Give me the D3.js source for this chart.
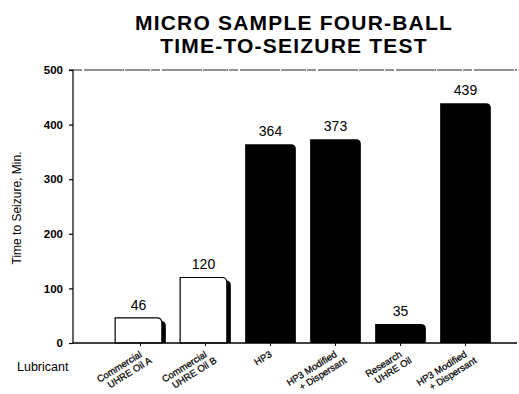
<!DOCTYPE html>
<html>
<head>
<meta charset="utf-8">
<script src="https://cdn.jsdelivr.net/npm/d3@7"></script>
<style>
  html, body { margin: 0; padding: 0; background: #fff; }
  svg { display: block; font-family: "Liberation Sans", Arial, Helvetica, sans-serif; }
</style>
</head>
<body>
<svg id="chart" width="519" height="394"></svg>
<script>
// Lubricant categories, drawn as two-line rotated labels
const lubricants = [
  ["Commercial", "UHRE Oil A"],
  ["Commercial", "UHRE Oil B"],
  ["HP3"],
  ["HP3 Modified", "+ Dispersant"],
  ["Research", "UHRE Oil"],
  ["HP3 Modified", "+ Dispersant"]
];
const seizureMinutes = [46, 120, 364, 373, 35, 439];
const hollowBar = [true, true, false, false, false, false];
const yTicks = [0, 100, 200, 300, 400, 500];
const titleLines = ["MICRO SAMPLE FOUR-BALL", "TIME-TO-SEIZURE TEST"];

const svg = d3.select("#chart");
const plotLeft = 73, plotRight = 517, plotTop = 70, plotBottom = 343;

const x = d3.scaleBand()
  .domain(d3.range(lubricants.length))
  .range([108, 498])
  .paddingInner(0.22)
  .paddingOuter(0.11);

const y = d3.scaleLinear().domain([0, 500]).range([plotBottom, plotTop]);

// Title
svg.append("text")
  .attr("text-anchor", "middle")
  .attr("font-weight", "bold")
  .attr("font-size", 21)
  .attr("letter-spacing", 1.2)
  .selectAll("tspan").data(titleLines).join("tspan")
  .attr("x", 294)
  .attr("y", (d, i) => 30 + i * 23)
  .text(d => d);

// Frame: top line at 500 and baseline
svg.append("line")
  .attr("x1", plotLeft).attr("x2", plotRight)
  .attr("y1", y(500)).attr("y2", y(500))
  .attr("stroke", "#222").attr("stroke-width", 1.1)
  .attr("stroke-dasharray", "9,2,40,1,25,1");

// Y axis
const yAxis = d3.axisLeft(y).tickValues(yTicks).tickSize(4).tickPadding(6).tickFormat(d3.format("d"));
const gy = svg.append("g").attr("transform", `translate(${plotLeft},0)`).call(yAxis);
gy.select(".domain").attr("stroke", "#000").attr("stroke-width", 1.2).attr("d", `M-4,${plotTop}H0V${plotBottom}`);
gy.selectAll(".tick line").attr("stroke", "#000").attr("stroke-width", 1.2);
gy.selectAll(".tick text")
  .attr("font-family", "Liberation Sans, Arial, sans-serif")
  .attr("font-size", 11.5).attr("font-weight", "bold").attr("fill", "#000");

// Y axis title
svg.append("text")
  .attr("transform", "translate(21,208) rotate(-90)")
  .attr("text-anchor", "middle")
  .attr("font-size", 12)
  .text("Time to Seizure, Min.");

// Bars
const bars = svg.append("g");
const r = 5;
seizureMinutes.forEach((v, i) => {
  const x0 = x(i), bw = x.bandwidth(), yt = y(v);
  if (hollowBar[i]) {
    const w = bw - 4;
    // shadow on the right side
    bars.append("path")
      .attr("d", `M${x0 + 4},${plotBottom}V${yt + 3}H${x0 + bw - r}Q${x0 + bw},${yt + 3} ${x0 + bw},${yt + 3 + r}V${plotBottom}Z`)
      .attr("fill", "#000");
    bars.append("path")
      .attr("d", `M${x0},${plotBottom}V${yt}H${x0 + w - r}Q${x0 + w},${yt} ${x0 + w},${yt + r}V${plotBottom}Z`)
      .attr("fill", "#fff").attr("stroke", "#000").attr("stroke-width", 1.2);
    bars.append("text")
      .attr("x", x0 + w / 2).attr("y", yt - 8)
      .attr("text-anchor", "middle").attr("font-size", 14)
      .text(v);
  } else {
    bars.append("path")
      .attr("d", `M${x0},${plotBottom}V${yt}H${x0 + bw - r}Q${x0 + bw},${yt} ${x0 + bw},${yt + r}V${plotBottom}Z`)
      .attr("fill", "#000");
    bars.append("text")
      .attr("x", x0 + bw / 2).attr("y", yt - 8)
      .attr("text-anchor", "middle").attr("font-size", 14)
      .text(v);
  }
});

// X baseline and category ticks
svg.append("line")
  .attr("x1", plotLeft).attr("x2", plotRight)
  .attr("y1", plotBottom).attr("y2", plotBottom)
  .attr("stroke", "#000").attr("stroke-width", 1.3);
const xAxis = d3.axisBottom(x).tickSize(3).tickFormat("");
const gx = svg.append("g").attr("transform", `translate(0,${plotBottom})`).call(xAxis);
gx.select(".domain").remove();
gx.selectAll(".tick line").attr("stroke", "#000");

// Category labels
const labels = svg.append("g");
lubricants.forEach((lines, i) => {
  const cx = x(i) + x.bandwidth() / 2;
  const t = labels.append("text")
    .attr("transform", `translate(${cx + 2},356) rotate(-32)`)
    .attr("text-anchor", "end")
    .attr("font-size", 9.5)
    .attr("stroke", "#000").attr("stroke-width", 0.25);
  lines.forEach((s, j) => {
    t.append("tspan").attr("x", j ? 5 : 0).attr("dy", j ? "1.1em" : 0).text(s);
  });
});

svg.append("text")
  .attr("x", 17).attr("y", 371)
  .attr("font-size", 12.5)
  .text("Lubricant");
</script>
</body>
</html>
